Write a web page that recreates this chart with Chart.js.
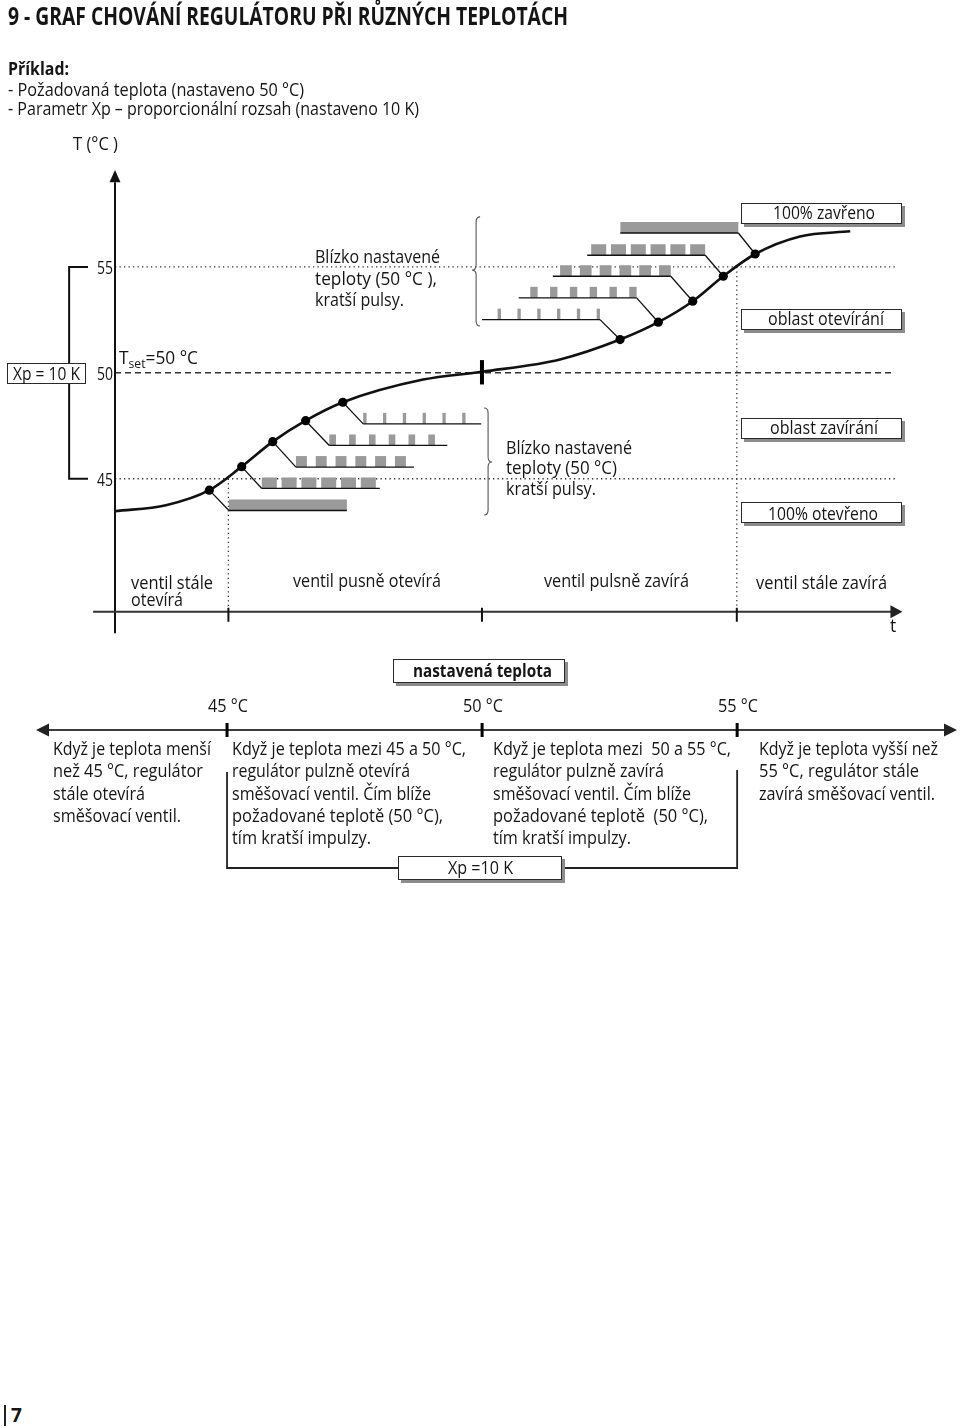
<!DOCTYPE html>
<html><head><meta charset="utf-8">
<script src="https://cdn.jsdelivr.net/npm/chart.js@4.4.1/dist/chart.umd.min.js"></script>
<style>
html,body{margin:0;padding:0;background:#fff;}
body{width:960px;height:1428px;position:relative;overflow:hidden;font-family:"Open Sans","Noto Sans",sans-serif;color:#151515;}
canvas{position:absolute;}
.t{position:absolute;white-space:pre;}
.t sub{font-size:13px;vertical-align:-4px;line-height:0;}
.box{position:absolute;background:#fff;border:1px solid #2a2a2a;box-sizing:border-box;}
.sh{box-shadow:3px 3px 0 #8c8c8c;}
</style></head><body>
<canvas id="c1" width="960" height="660" style="left:0;top:0;width:960px;height:660px"></canvas>
<canvas id="c2" width="960" height="240" style="left:0;top:650px;width:960px;height:240px"></canvas>
<script>
// ---------- data ----------
const yTicks = [45, 50, 55];                 // °C marks on the vertical axis
const setPoint = 50, xpBand = 10;            // Tset and proportional band Xp
const phaseBounds = [4.45, 14.4, 24.4];      // time where the valve behaviour changes
// temperature curve (time, °C)
const curveKnotsT    = [0, 2.0, 12.09, 14.41, 17.46, 26.88, 28.85];
const curveKnotsTemp = [43.47, 43.75, 49.68, 50.05, 50.63, 56.44, 56.68];
// marked sampling points on the curve
const dotT    = [3.70, 4.97, 6.19, 7.48, 8.94, 19.82, 21.32, 22.67, 23.87, 25.12];
const dotTemp = [44.46, 45.57, 46.75, 47.74, 48.61, 51.57, 52.39, 53.38, 54.56, 55.61];
// opening pulse trains (start time, level °C, pulse length)
const openStart = [4.47, 5.76, 7.10, 8.41, 9.74];
const openLevel = [43.50, 44.54, 45.55, 46.57, 47.59];
const openPulse = [4.63, 0.59, 0.43, 0.26, 0.13];
// closing pulse trains (end time, level °C, pulse length)
const closeEnd   = [19.03, 20.47, 21.81, 23.16, 24.46];
const closeLevel = [52.51, 53.54, 54.56, 55.55, 56.60];
const closePulse = [0.13, 0.29, 0.46, 0.59, 4.63];
const pulseCount = 6, pulsePeriod = 0.777, trainLength = 4.63, pulseHeight = 0.52;
// lower temperature axis
const tempAxisTicks  = [45, 50, 55];
const tempAxisLabels = ['45 °C', '50 °C', '55 °C'];

// ---------- helpers ----------
function seg(ctx,x1,y1,x2,y2){ctx.beginPath();ctx.moveTo(x1,y1);ctx.lineTo(x2,y2);ctx.stroke();}
function brace(ctx,x,y1,y2,ym,dir,w){
  const r=5;
  ctx.beginPath();
  ctx.moveTo(x-dir*w,y1);
  ctx.quadraticCurveTo(x,y1,x,y1+r);
  ctx.lineTo(x,ym-r);
  ctx.quadraticCurveTo(x,ym,x+dir*w,ym);
  ctx.quadraticCurveTo(x,ym,x,ym+r);
  ctx.lineTo(x,y2-r);
  ctx.quadraticCurveTo(x,y2,x-dir*w,y2);
  ctx.stroke();
}
const tAxisLevel = 38.72;

const diagram = {
  id:'diagram',
  beforeDatasetsDraw(ch){
    const ctx=ch.ctx, X=v=>ch.scales.x.getPixelForValue(v), Y=v=>ch.scales.y.getPixelForValue(v);
    ctx.save();
    // reference lines
    ctx.strokeStyle='#333'; ctx.lineWidth=1.3; ctx.setLineDash([1.3,3.2]);
    seg(ctx,X(0),Y(setPoint+xpBand/2),X(30.6),Y(setPoint+xpBand/2));
    seg(ctx,X(0),Y(setPoint-xpBand/2),X(30.6),Y(setPoint-xpBand/2));
    seg(ctx,X(phaseBounds[0]),Y(setPoint-xpBand/2),X(phaseBounds[0]),Y(tAxisLevel));
    seg(ctx,X(phaseBounds[2]),Y(setPoint+xpBand/2),X(phaseBounds[2]),Y(tAxisLevel));
    ctx.setLineDash([6,4]); ctx.lineWidth=1.6;
    seg(ctx,X(0),Y(setPoint),X(30.6),Y(setPoint));
    ctx.setLineDash([]);
    // pulse trains
    const pw=v=>X(v)-X(0);
    ctx.fillStyle='#9a9a9a';
    for(let i=0;i<openStart.length;i++){
      const s=openStart[i], l=openLevel[i], top=Y(l+pulseHeight), h=Y(l)-top;
      if(openPulse[i]>=trainLength){ ctx.fillRect(X(s),top,pw(trainLength),h); }
      else for(let k=0;k<pulseCount;k++) ctx.fillRect(X(s+k*pulsePeriod),top,pw(openPulse[i]),h);
    }
    for(let i=0;i<closeEnd.length;i++){
      const e=closeEnd[i], l=closeLevel[i], top=Y(l+pulseHeight), h=Y(l)-top;
      if(closePulse[i]>=trainLength){ ctx.fillRect(X(e-trainLength),top,pw(trainLength),h); }
      else for(let k=0;k<pulseCount;k++){ const end=e-(pulseCount-1-k)*pulsePeriod; ctx.fillRect(X(end-closePulse[i]),top,pw(closePulse[i]),h); }
    }
    ctx.strokeStyle='#111'; ctx.lineWidth=1.3;
    for(let i=0;i<openStart.length;i++){
      seg(ctx,X(openStart[i]),Y(openLevel[i]),X(openStart[i]+trainLength),Y(openLevel[i]));
      seg(ctx,X(dotT[i]),Y(dotTemp[i]),X(openStart[i]),Y(openLevel[i]));
    }
    for(let i=0;i<closeEnd.length;i++){
      seg(ctx,X(closeEnd[i]-trainLength),Y(closeLevel[i]),X(closeEnd[i]),Y(closeLevel[i]));
      seg(ctx,X(dotT[5+i]),Y(dotTemp[5+i]),X(closeEnd[i]),Y(closeLevel[i]));
    }
    // braces
    ctx.strokeStyle='#555'; ctx.lineWidth=1.1;
    brace(ctx,X(14.17),Y(57.36),Y(52.21),Y(54.85),-1,4);
    brace(ctx,X(14.64),Y(48.34),Y(43.29),Y(45.79),1,4);
    // axes
    ctx.strokeStyle='#111'; ctx.fillStyle='#111'; ctx.lineWidth=2;
    const ax=X(0);
    seg(ctx,ax,Y(37.7),ax,Y(59.0));
    ctx.beginPath(); ctx.moveTo(ax,Y(59.58)); ctx.lineTo(ax-5.5,Y(59.0)); ctx.lineTo(ax+5.5,Y(59.0)); ctx.closePath(); ctx.fill();
    const ty=Y(tAxisLevel);
    ctx.strokeStyle='#333'; ctx.fillStyle='#222';
    seg(ctx,X(-0.86),ty,X(30.9)-10,ty);
    ctx.beginPath(); ctx.moveTo(X(30.9),ty); ctx.lineTo(X(30.9)-12,ty-6.5); ctx.lineTo(X(30.9)-12,ty+6.5); ctx.closePath(); ctx.fill();
    ctx.strokeStyle='#111';
    phaseBounds.forEach(p=>seg(ctx,X(p),ty-4,X(p),ty+10));
    // Xp bracket
    ctx.lineWidth=2;
    ctx.beginPath(); ctx.moveTo(X(-1.06),Y(setPoint+xpBand/2)); ctx.lineTo(X(-1.8),Y(setPoint+xpBand/2));
    ctx.lineTo(X(-1.8),Y(setPoint-xpBand/2)); ctx.lineTo(X(-1.06),Y(setPoint-xpBand/2)); ctx.stroke();
    ctx.restore();
  },
  afterDatasetsDraw(ch){
    const ctx=ch.ctx, X=v=>ch.scales.x.getPixelForValue(v), Y=v=>ch.scales.y.getPixelForValue(v);
    ctx.save(); ctx.strokeStyle='#000'; ctx.lineWidth=4;
    seg(ctx,X(phaseBounds[1]),Y(50.6),X(phaseBounds[1]),Y(49.45));
    ctx.restore();
  }
};

const curvePts = curveKnotsT.map((t,i)=>({x:t,y:curveKnotsTemp[i]}))
  .concat(dotT.map((t,i)=>({x:t,y:dotTemp[i]}))).sort((a,b)=>a.x-b.x);
const dotPts = dotT.map((t,i)=>({x:t,y:dotTemp[i]}));

const c1 = new Chart(document.getElementById('c1'),{
  type:'line',
  data:{datasets:[
    {type:'scatter',data:dotPts,pointRadius:4.6,pointBackgroundColor:'#000',pointBorderWidth:0,showLine:false},
    {data:curvePts,borderColor:'#111',borderWidth:2.6,pointRadius:0,cubicInterpolationMode:'monotone',fill:false}
  ]},
  options:{responsive:false,animation:false,devicePixelRatio:1,
    layout:{padding:{left:115,right:55,top:161,bottom:33}},
    scales:{x:{type:'linear',min:0,max:31,display:false},y:{type:'linear',min:38,max:60,display:false}},
    plugins:{legend:{display:false},tooltip:{enabled:false}},
    events:[]},
  plugins:[diagram]
});

const lowerAxis = {
  id:'lowerAxis',
  afterDraw(ch){
    const ctx=ch.ctx, X=v=>ch.scales.x.getPixelForValue(v);
    const ay=80, x0=X(ch.scales.x.min), x1=X(ch.scales.x.max);
    ctx.save();
    ctx.strokeStyle='#3c3c3c'; ctx.fillStyle='#222'; ctx.lineWidth=2;
    seg(ctx,x0+10,ay,x1-10,ay);
    ctx.beginPath(); ctx.moveTo(x0,ay); ctx.lineTo(x0+13,ay-6.5); ctx.lineTo(x0+13,ay+6.5); ctx.closePath(); ctx.fill();
    ctx.beginPath(); ctx.moveTo(x1,ay); ctx.lineTo(x1-13,ay-6.5); ctx.lineTo(x1-13,ay+6.5); ctx.closePath(); ctx.fill();
    ctx.fillStyle='#000';
    tempAxisTicks.forEach(v=>ctx.fillRect(X(v)-1.5,ay-7,3,14));
    ctx.strokeStyle='#222'; ctx.lineWidth=1.8;
    const lo=setPoint-xpBand/2, hi=setPoint+xpBand/2;
    ctx.beginPath(); ctx.moveTo(X(lo),122); ctx.lineTo(X(lo),218); ctx.lineTo(X(hi),218); ctx.lineTo(X(hi),120); ctx.stroke();
    ctx.restore();
  }
};
const c2 = new Chart(document.getElementById('c2'),{
  type:'line',
  data:{datasets:[]},
  options:{responsive:false,animation:false,devicePixelRatio:1,
    layout:{padding:{left:36,right:3,top:0,bottom:0}},
    scales:{x:{type:'linear',min:41.255,max:59.31,display:false},y:{min:0,max:1,display:false}},
    plugins:{legend:{display:false},tooltip:{enabled:false}},events:[]},
  plugins:[lowerAxis]
});

// ---------- text overlay ----------
function add(txt,x,cy,o={}){
  const s=o.s||18.5, lh=Math.round(s*1.3);
  const d=document.createElement('div'); d.className='t';
  if(o.html) d.innerHTML=txt; else d.textContent=txt;
  d.style.fontSize=s+'px'; d.style.lineHeight=lh+'px';
  if(o.b) d.style.fontWeight='700';
  document.body.appendChild(d);
  const nw=d.getBoundingClientRect().width;
  const sc=o.w?o.w/nw:1, fw=nw*sc;
  const a=o.a||'l';
  const left=a==='c'?x-fw/2:a==='r'?x-fw:x;
  d.style.left=left+'px'; d.style.top=(cy-lh/2-0.08*s)+'px';
  d.style.transformOrigin='0 50%'; d.style.transform='scaleX('+sc+')';
  return d;
}
function box(x,y,w,h,shadow){
  const d=document.createElement('div'); d.className='box'+(shadow?' sh':'');
  Object.assign(d.style,{left:x+'px',top:y+'px',width:w+'px',height:h+'px'});
  document.body.appendChild(d);
}
// header
add('9 - GRAF CHOVÁNÍ REGULÁTORU PŘI RŮZNÝCH TEPLOTÁCH',8,17,{s:25,b:1,w:560});
add('Příklad:',8,69,{b:1,w:61});
add('- Požadovaná teplota (nastaveno 50 °C)',8,90,{w:296});
add('- Parametr Xp – proporcionální rozsah (nastaveno 10 K)',8,109,{w:411});
add('T (°C )',73,144,{w:45});
// vertical axis labels
const Yp=v=>c1.scales.y.getPixelForValue(v);
yTicks.forEach(v=>add(String(v),113,Yp(v)+2,{s:19,a:'r',w:16}));
box(7,363,79,21,false);
add('Xp = 10 K',46.5,374,{a:'c',w:67});
add('T<sub>set</sub>=50 °C',119,358,{html:1,w:79});
// notes
[['Blízko nastavené',257,125],['teploty (50 °C ),',279,122],['kratší pulsy.',300,89]].forEach(r=>add(r[0],315,r[1],{w:r[2]}));
[['Blízko nastavené',448,126],['teploty (50 °C)',468,111],['kratší pulsy.',489,90]].forEach(r=>add(r[0],506,r[1],{w:r[2]}));
// state boxes
box(741,203,161,21,true); add('100% zavřeno',772.7,213,{w:102});
box(741,309,161,21,true); add('oblast otevírání',768,319,{w:116});
box(741,418,161,21,true); add('oblast zavírání',770,428,{w:108});
box(741,502,161,21,true); add('100% otevřeno',767.7,514,{w:110});
// phase labels
add('ventil stále',131,584,{s:17.5,w:82});
add('otevírá',131,601,{s:17.5,w:52});
add('ventil pusně otevírá',293,582,{s:17.5,w:148});
add('ventil pulsně zavírá',544,582,{s:17.5,w:145});
add('ventil stále zavírá',756,584,{s:17.5,w:131});
add('t',890,627,{s:17.5});
// lower section
box(393,659,172,24,true); add('nastavená teplota',482,671,{b:1,a:'c',w:139});
const X2=v=>c2.scales.x.getPixelForValue(v);
tempAxisTicks.forEach((v,i)=>add(tempAxisLabels[i],X2(v)+1,706,{a:'c',w:40}));
const rows=[749,771.5,794,816,838.5];
const cols=[
 [53,[['Když je teplota menší',158],['než 45 °C, regulátor',150],['stále otevírá',92],['směšovací ventil.',128]]],
 [232,[['Když je teplota mezi 45 a 50 °C,',234],['regulátor pulzně otevírá',178],['směšovací ventil. Čím blíže',199],['požadované teplotě (50 °C),',211],['tím kratší impulzy.',139]]],
 [493,[['Když je teplota mezi  50 a 55 °C,',238],['regulátor pulzně zavírá',171],['směšovací ventil. Čím blíže',198],['požadované teplotě  (50 °C),',215],['tím kratší impulzy.',138]]],
 [759,[['Když je teplota vyšší než',179],['55 °C, regulátor stále',160],['zavírá směšovací ventil.',176]]]
];
cols.forEach(([x,lines])=>lines.forEach((l,i)=>add(l[0],x,rows[i],{w:l[1]})));
box(398,856,164,24,true); add('Xp =10 K',448,868,{w:65});
// page number
const pn=document.createElement('div');
Object.assign(pn.style,{position:'absolute',left:'4px',top:'1405px',height:'21px',borderLeft:'2px solid #222',paddingLeft:'5px',fontWeight:'700',fontSize:'19px',lineHeight:'21px'});
pn.textContent='7'; document.body.appendChild(pn);
</script>
</body></html>
